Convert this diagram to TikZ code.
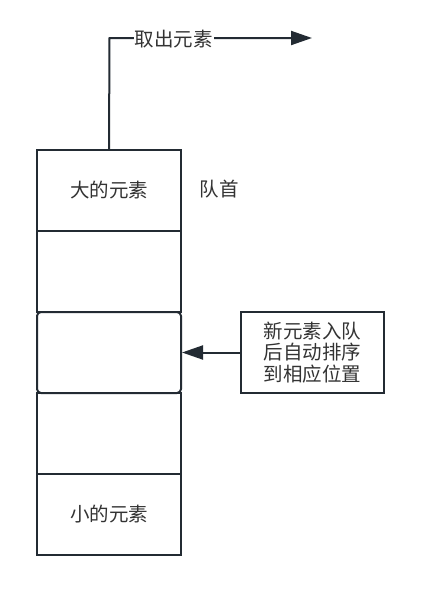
\documentclass[tikz,border=0pt]{standalone}
\usepackage{fontspec}
\setmainfont{Noto Sans CJK SC}
\usetikzlibrary{arrows.meta}
\definecolor{linec}{HTML}{232B33}
\definecolor{txtc}{HTML}{333333}
\begin{document}
\begin{tikzpicture}[x=1pt,y=-1pt,
  cell/.style={draw=linec,line width=2pt,minimum width=144pt,minimum height=81pt,inner sep=0pt,text=txtc,font=\fontsize{19.5pt}{21.5pt}\selectfont},
  conn/.style={draw=linec,line width=2pt,-{Triangle[length=21pt,width=14pt]}},
  lbl/.style={text=txtc,font=\fontsize{19.5pt}{21.5pt}\selectfont,inner sep=1pt}]
\useasboundingbox (0,0) rectangle (423,592);
\node[cell] (c1) at (109,190.5) {大的元素};
\node[cell] (c2) at (109,271.5) {};
\node[cell,rounded corners=4pt] (c3) at (109,352.5) {};
\node[cell] (c4) at (109,433.5) {};
\node[cell] (c5) at (109,514.5) {小的元素};
\coordinate (bend) at (109.5,38);
\coordinate (tip) at (312,38);
\draw[conn] (c1.north) -- (bend) -- (tip);
\node[lbl,fill=white] (take) at (173.5,39) {取出元素};
\node[lbl] (head) at (219,189) {队首};
\node[cell,minimum width=143pt,minimum height=81pt,align=center] (new) at (312.5,352.5) {新元素入队\\后自动排序\\到相应位置};
\draw[conn] (new.west) -- (c3.east);
\end{tikzpicture}
\end{document}
